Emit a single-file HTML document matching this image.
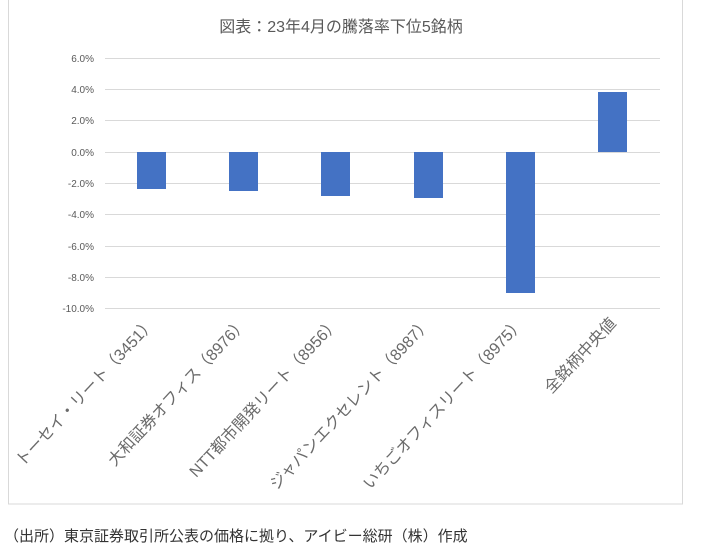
<!DOCTYPE html>
<html><head><meta charset="utf-8"><style>
body{margin:0;background:#fff;width:721px;height:551px;overflow:hidden}
svg{position:absolute;left:0;top:0}
text{font-family:"Liberation Sans","Noto Sans CJK JP",sans-serif}
</style></head><body>
<svg width="721" height="551">
<rect x="8.5" y="-1" width="674" height="505" fill="#fff" stroke="#d9d9d9"/>
<text x="341" y="32" font-size="16" fill="#595959" text-anchor="middle">図表：23年4月の騰落率下位5銘柄</text>
<g stroke="#d9d9d9" stroke-width="1">
<line x1="105" x2="660" y1="58.5" y2="58.5"/><line x1="105" x2="660" y1="89.5" y2="89.5"/>
<line x1="105" x2="660" y1="120.5" y2="120.5"/><line x1="105" x2="660" y1="152.5" y2="152.5"/>
<line x1="105" x2="660" y1="183.5" y2="183.5"/><line x1="105" x2="660" y1="214.5" y2="214.5"/>
<line x1="105" x2="660" y1="246.5" y2="246.5"/><line x1="105" x2="660" y1="277.5" y2="277.5"/>
<line x1="105" x2="660" y1="308.5" y2="308.5"/>
</g>
<g font-size="10" fill="#595959" text-anchor="end">
<text x="94" y="62">6.0%</text><text x="94" y="93">4.0%</text><text x="94" y="124">2.0%</text>
<text x="94" y="156">0.0%</text><text x="94" y="187">-2.0%</text><text x="94" y="218">-4.0%</text>
<text x="94" y="250">-6.0%</text><text x="94" y="281">-8.0%</text><text x="94" y="312">-10.0%</text>
</g>
<g fill="#4472c4">
<rect x="137" y="152" width="29" height="37"/>
<rect x="229" y="152" width="29" height="39"/>
<rect x="321" y="152" width="29" height="44"/>
<rect x="414" y="152" width="29" height="46"/>
<rect x="506" y="152" width="29" height="141"/>
<rect x="598" y="92" width="29" height="60"/>
</g>
<g font-size="16" fill="#6a6a6a" text-anchor="end">
<text transform="translate(156,324) rotate(-47)">トーセイ・リート（3451）</text>
<text transform="translate(248,324) rotate(-47)">大和証券オフィス（8976）</text>
<text transform="translate(340,324) rotate(-47)">NTT都市開発リート（8956）</text>
<text transform="translate(432,324) rotate(-47)">ジャパンエクセレント（8987）</text>
<text transform="translate(525,324) rotate(-47)">いちごオフィスリート（8975）</text>
<text transform="translate(617,324) rotate(-47)">全銘柄中央値</text>
</g>
<text x="4" y="541" font-size="15" fill="#333">（出所）東京証券取引所公表の価格に拠り、アイビー総研（株）作成</text>
</svg>
</body></html>
